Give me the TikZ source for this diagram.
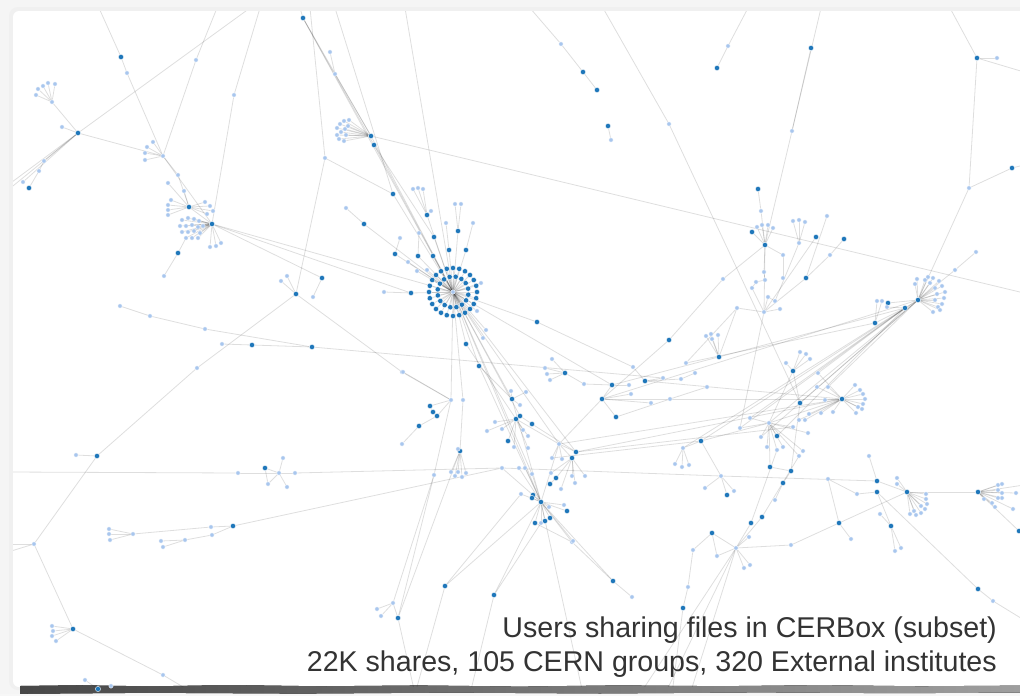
\documentclass[tikz,border=0pt]{standalone}
\usepackage{fontspec}
\setmainfont{Liberation Sans}
\usetikzlibrary{backgrounds}
\pgfdeclarelayer{bgzero}
\pgfsetlayers{bgzero,background,main}
\definecolor{dkblue}{RGB}{31,119,186}
\definecolor{ltblue}{RGB}{168,198,238}
\tikzset{
  dnode/.style={circle,fill=dkblue,draw=white,line width=0.35pt,inner sep=0pt,minimum size=5.3pt},
  lnode/.style={circle,fill=ltblue,draw=white,line width=0.3pt,inner sep=0pt,minimum size=4.4pt},
  lnk/.style={draw=black,draw opacity=0.13,line width=0.8pt},
  captxt/.style={font=\fontsize{28.6}{34}\selectfont,text=black!80,anchor=base east,inner sep=0pt}
}
\begin{document}
\begin{tikzpicture}[x=1pt,y=-1pt]
\useasboundingbox (0,0) rectangle (1020,696);
% frame
\begin{pgfonlayer}{bgzero}
\fill[black!4] (0,0) rectangle (1020,696);
\fill[black!6,rounded corners=9pt] (9,7) rectangle (1040,690);
\fill[white,rounded corners=6pt] (13,11) rectangle (1040,687);
\fill[left color=black!72,right color=black!38]
  (20,686) -- (80,685.2) -- (150,686.4) -- (230,685) -- (320,686.3) -- (420,685.4)
  -- (520,686.6) -- (620,685.3) -- (720,686.2) -- (820,685.1) -- (920,686.3) -- (1020,685.6)
  -- (1020,692.5) -- (900,693.2) -- (760,692.4) -- (600,693.5) -- (450,692.6) -- (300,693.6)
  -- (150,692.8) -- (20,693.8) -- cycle;
\fill[black!3] (0,694.2) rectangle (1020,696);
\end{pgfonlayer}
% border coordinates
\foreach \x/\y in {250/8, 99/8, 217/8, 260/8, 300/8, 310/8, 335/8, 405/8, 530/8, 603/8, 748/8, 821/8, 950/8, 8/190, 8/185, 8/472, 8/544, 8/552, 1024/293, 1024/72, 1024/165, 1024/485, 1024/620, 1024/535, 195/694, 640/694, 665/694, 690/694, 583/694, 415/694, 470/694, 672/694, 119/694}
  \coordinate (v\x-\y) at (\x,\y);
% dark nodes
\foreach \x/\y in {121/57, 78/133, 29/188, 189/207, 212/224, 178/253, 303/18, 371/136, 374/145, 393/194, 364/224, 427/215, 458/231, 449/250, 466/250, 434/237, 395/254, 418/256, 433/256, 411/293, 322/278, 296/294, 312/347, 252/345, 537/322, 466/344, 479/366, 430/406, 433/412, 437/416, 419/426, 460/451, 512/399, 516/419, 520/416, 532/424, 508/441, 565/373, 612/385, 602/399, 616/417, 645/381, 669/340, 576/452, 572/458, 556/478, 550/484, 533/495, 532/498, 541/502, 567/511, 535/523, 545/521, 550/518, 583/72, 597/90, 608/126, 717/68, 811/48, 977/58, 1012/168, 758/189, 752/232, 765/245, 816/237, 806/278, 844/239, 719/357, 918/300, 905/308, 888/303, 875/323, 793/371, 800/403, 842/399, 777/436, 701/441, 727/495, 770/467, 791/471, 783/483, 877/481, 877/492, 762/517, 751/523, 839/523, 712/533, 683/608, 613/581, 445/586, 494/595, 398/618, 891/526, 907/492, 978/492, 1019/531, 978/589, 97/456, 265/468, 233/526, 73/629, 98/689}
  \node[dnode] (v\x-\y) at (\x,\y) {};
% light nodes
\foreach \x/\y in {127/73, 52/102, 36/95, 38/89, 43/86, 48/83, 55/84, 62/127, 44/161, 39/171, 23/182, 163/156, 147/147, 153/142, 145/153, 145/160, 196/60, 234/95, 178/175, 168/183, 184/191, 171/200, 168/205, 168/210, 168/215, 205/202, 210/206, 213/211, 207/214, 182/220, 188/218, 194/219, 199/221, 180/226, 186/226, 192/225, 198/227, 203/226, 182/232, 188/232, 194/231, 200/233, 186/238, 192/238, 198/238, 164/276, 210/247, 216/246, 221/243, 330/52, 335/74, 337/128, 340/124, 344/121, 349/120, 337/135, 341/132, 345/129, 348/126, 339/139, 344/141, 346/135, 325/158, 346/208, 413/189, 418/188, 423/189, 431/211, 455/204, 461/204, 446/223, 473/223, 287/276, 281/281, 313/297, 120/306, 150/316, 205/329, 222/344, 197/368, 402/372, 384/292, 400/238, 419/233, 408/262, 417/271, 427/270, 486/330, 483/338, 477/311, 481/283, 403/372, 451/400, 463/400, 402/444, 458/449, 451/472, 455/476, 458/472, 462/477, 466/473, 434/475, 561/44, 611/140, 669/124, 728/46, 792/131, 997/58, 969/188, 761/211, 757/227, 762/225, 768/225, 773/228, 783/255, 783/278, 764/272, 765/280, 756/282, 752/288, 768/297, 775/301, 780/309, 764/312, 723/279, 737/308, 793/221, 799/220, 805/222, 799/243, 827/216, 830/255, 706/336, 711/334, 718/335, 712/339, 917/279, 915/284, 928/277, 933/278, 939/281, 942/286, 945/292, 944/298, 942/304, 938/307, 935/300, 937/294, 935/288, 930/283, 925/280, 940/310, 933/312, 955/270, 976/252, 877/301, 882/301, 887/307, 552/359, 545/368, 547/374, 550/380, 584/384, 629/385, 633/367, 663/378, 681/379, 686/363, 695/373, 707/387, 651/403, 670/399, 631/394, 786/363, 800/352, 806/354, 810/359, 855/385, 860/390, 863/394, 865/399, 863/404, 858/407, 856/413, 862/409, 818/373, 828/387, 817/387, 825/400, 833/412, 821/413, 809/414, 805/420, 799/420, 793/427, 808/433, 769/423, 761/437, 767/447, 777/450, 783/447, 803/451, 799/456, 750/418, 740/428, 683/448, 675/464, 682/467, 689/465, 721/476, 705/488, 734/491, 828/479, 857/494, 869/456, 775/500, 851/539, 791/545, 749/537, 736/548, 693/550, 717/556, 744/568, 750/565, 688/587, 572/542, 632/597, 526/392, 511/391, 520/405, 495/422, 487/431, 502/429, 523/430, 528/436, 514/447, 528/448, 502/468, 519/468, 525/468, 532/474, 559/444, 552/458, 562/459, 561/489, 551/473, 572/476, 575/483, 585/476, 521/494, 549/507, 564/505, 541/523, 573/541, 880/514, 895/551, 901/548, 897/478, 897/484, 926/494, 926/499, 927/504, 925/509, 921/506, 921/513, 916/515, 910/514, 914/511, 998/485, 1002/484, 998/490, 1002/493, 1016/493, 1002/498, 998/498, 995/507, 1013/509, 984/499, 992/503, 993/601, 76/455, 238/473, 279/473, 283/458, 287/487, 268/484, 295/473, 34/544, 52/626, 53/631, 52/636, 56/641, 163/675, 85/680, 111/686, 109/529, 109/534, 110/540, 133/534, 211/527, 212/535, 185/540, 161/541, 163/547, 393/603, 377/609, 381/616, 453/292}
  \node[lnode] (v\x-\y) at (\x,\y) {};
% hub rings
\foreach \i in {1,...,24}
  \node[dnode] (ho\i) at ({453+24*cos(15*\i)},{292+24*sin(15*\i)}) {};
\foreach \i in {1,...,16}
  \node[dnode] (hi\i) at ({453+15.5*cos(22.5*\i+10)},{292+15.5*sin(22.5*\i+10)}) {};
% caption
\node[captxt] (t1) at (997,637) {Users sharing files in CERBox (subset)};
\node[captxt] (t2) at (997,671) {22K shares, 105 CERN groups, 320 External institutes};
% edges
\begin{pgfonlayer}{background}
\begin{scope}
\clip (13,11) rectangle (1020,686);
\foreach \i in {1,...,24} \draw[lnk] (v453-292) -- (ho\i);
\foreach \i in {1,...,16} \draw[lnk] (v453-292) -- (hi\i);
\foreach \b in {182-220, 188-218, 194-219, 199-221, 180-226, 186-226, 192-225, 198-227, 203-226, 182-232, 188-232, 194-231, 200-233, 186-238, 192-238, 198-238}
  \draw[lnk] (v212-224) -- (v\b);
\foreach \b in {337-128, 340-124, 344-121, 349-120, 337-135, 341-132, 345-129, 348-126, 339-139, 344-141, 346-135}
  \draw[lnk] (v371-136) -- (v\b);
\foreach \b in {917-279, 915-284, 928-277, 933-278, 939-281, 942-286, 945-292, 944-298, 942-304, 938-307, 935-300, 937-294, 935-288, 930-283, 925-280, 940-310, 933-312}
  \draw[lnk] (v918-300) -- (v\b);
\foreach \b in {855-385, 860-390, 863-394, 865-399, 863-404, 858-407, 856-413, 862-409}
  \draw[lnk] (v842-399) -- (v\b);
\foreach \b in {926-494, 926-499, 927-504, 925-509, 921-506, 921-513, 916-515, 910-514, 914-511}
  \draw[lnk] (v907-492) -- (v\b);
\foreach \b in {998-485, 1002-484, 998-490, 1002-493, 1016-493, 1002-498, 998-498, 995-507, 1013-509, 984-499, 992-503}
  \draw[lnk] (v978-492) -- (v\b);
\foreach \a/\b in {99-8/121-57, 121-57/127-73, 127-73/163-156,
 52-102/36-95, 52-102/38-89, 52-102/43-86, 52-102/48-83, 52-102/55-84, 52-102/78-133, 62-127/78-133, 78-133/250-8, 78-133/163-156, 78-133/8-190, 78-133/8-185, 78-133/23-182, 78-133/44-161, 44-161/39-171, 39-171/29-188,
 163-156/147-147, 163-156/153-142, 163-156/145-153, 163-156/145-160, 217-8/196-60, 196-60/163-156, 260-8/234-95, 234-95/212-224, 163-156/178-175, 178-175/189-207, 168-183/189-207, 184-191/189-207, 163-156/212-224,
 189-207/171-200, 189-207/168-205, 189-207/168-210, 189-207/168-215, 189-207/205-202, 189-207/210-206, 189-207/213-211, 189-207/207-214, 189-207/212-224,
 178-253/164-276, 178-253/186-238, 212-224/210-247, 212-224/216-246, 212-224/221-243,
 212-224/453-292, 212-224/411-293, 212-224/322-278,
 303-18/300-8, 303-18/371-136, 303-18/374-145, 303-18/453-292, 330-52/335-74, 335-74/371-136,
 310-8/325-158, 325-158/296-294, 325-158/393-194, 335-8/393-194, 393-194/453-292, 405-8/453-292, 371-136/1024-293, 371-136/453-292, 374-145/434-237, 374-145/453-292, 346-208/364-224, 364-224/453-292,
 427-215/413-189, 427-215/418-188, 427-215/423-189, 427-215/431-211, 427-215/453-292, 455-204/458-231, 461-204/458-231, 446-223/449-250, 473-223/466-250, 458-231/453-292, 449-250/453-292, 466-250/453-292, 400-238/395-254, 419-233/418-256, 434-237/453-292, 395-254/453-292, 418-256/453-292, 433-256/453-292, 408-262/453-292, 417-271/453-292, 427-270/453-292, 384-292/411-293, 411-293/453-292,
 296-294/287-276, 296-294/281-281, 322-278/313-297, 296-294/197-368, 197-368/97-456, 296-294/402-372, 402-372/451-400, 120-306/150-316, 150-316/205-329, 205-329/312-347, 222-344/252-345, 252-345/312-347, 312-347/663-378,
 453-292/479-366, 453-292/512-399, 453-292/520-416, 453-292/559-444, 453-292/532-474, 453-292/541-502, 453-292/576-452, 453-292/466-344, 453-292/537-322, 453-292/486-330, 453-292/483-338, 453-292/477-311, 453-292/481-283, 466-344/516-419, 453-292/612-385, 453-292/451-400, 453-292/463-400, 537-322/633-367,
 403-372/451-400, 451-400/430-406, 430-406/433-412, 433-412/437-416, 437-416/419-426, 419-426/402-444, 451-400/437-416, 463-400/460-451, 460-451/451-472, 460-451/455-476, 460-451/458-472, 460-451/462-477, 460-451/466-473, 460-451/458-449, 451-400/434-475, 434-475/398-618, 460-451/398-618, 434-475/393-603, 393-603/377-609, 393-603/381-616, 393-603/398-618, 398-618/415-694,
 8-472/238-473, 238-473/279-473, 279-473/265-468, 279-473/283-458, 279-473/287-487, 279-473/268-484, 279-473/295-473, 265-468/268-484, 295-473/502-468, 502-468/721-476, 721-476/877-481,
 109-529/133-534, 109-534/133-534, 110-540/133-534, 133-534/211-527, 211-527/233-526, 161-541/185-540, 163-547/185-540, 185-540/212-535, 212-535/233-526, 233-526/502-468,
 97-456/76-455, 97-456/34-544, 34-544/8-544, 34-544/8-552, 34-544/73-629, 73-629/52-626, 73-629/53-631, 73-629/52-636, 73-629/56-641, 73-629/163-675, 163-675/195-694, 85-680/98-689, 98-689/111-686, 111-686/119-694,
 479-366/512-399, 512-399/526-392, 512-399/511-391, 512-399/520-405, 516-419/520-416, 520-416/532-424, 516-419/495-422, 516-419/487-431, 516-419/502-429, 516-419/523-430, 516-419/528-436, 516-419/514-447, 516-419/528-448, 508-441/516-419, 516-419/559-444, 512-399/541-502, 532-424/576-452, 559-444/552-458, 559-444/562-459, 559-444/576-452, 559-444/572-458, 572-458/556-478, 556-478/550-484, 572-458/561-489, 572-458/551-473, 572-458/572-476, 572-458/575-483, 572-458/585-476, 541-502/533-495, 541-502/532-498, 541-502/521-494, 541-502/549-507, 541-502/564-505, 541-502/567-511, 541-502/535-523, 541-502/545-521, 541-502/550-518, 541-502/541-523, 541-502/573-541, 541-502/572-542, 541-502/445-586, 541-502/494-595, 541-502/613-581, 541-502/583-694, 541-502/559-444, 502-468/541-502, 519-468/541-502, 525-468/541-502, 532-474/541-502, 479-366/541-502,
 565-373/552-359, 565-373/545-368, 565-373/547-374, 565-373/550-380, 565-373/584-384, 584-384/612-385, 612-385/629-385, 612-385/602-399, 602-399/616-417, 602-399/651-403, 645-381/633-367, 645-381/663-378, 645-381/681-379, 681-379/695-373, 669-340/602-399, 669-340/723-279, 602-399/559-444, 670-399/707-387, 631-394/602-399, 616-417/670-399,
 576-452/842-399, 576-452/793-427, 552-458/701-441, 612-385/905-308, 602-399/918-300, 602-399/842-399, 559-444/842-399, 645-381/842-399,
 918-300/701-441, 918-300/769-423, 918-300/800-403, 905-308/740-428, 905-308/750-418, 905-308/683-448, 918-300/761-437, 905-308/777-436, 905-308/818-373, 918-300/828-387, 905-308/875-323, 875-323/877-301, 875-323/882-301, 888-303/918-300, 887-307/905-308, 905-308/918-300, 918-300/955-270, 955-270/976-252, 918-300/969-188, 969-188/977-58, 969-188/1012-168, 1012-168/1024-165, 977-58/997-58, 977-58/950-8, 977-58/1024-72, 686-363/875-323,
 842-399/818-373, 842-399/828-387, 842-399/817-387, 842-399/825-400, 842-399/833-412, 842-399/821-413, 842-399/809-414, 842-399/805-420, 842-399/799-420, 793-371/786-363, 793-371/800-352, 793-371/806-354, 793-371/810-359, 793-371/800-403, 793-371/769-423,
 769-423/761-437, 769-423/767-447, 769-423/777-436, 769-423/777-450, 769-423/783-447, 769-423/750-418, 769-423/740-428, 769-423/701-441, 769-423/803-451, 769-423/799-456, 769-423/808-433, 769-423/793-427, 769-423/842-399,
 701-441/683-448, 683-448/675-464, 683-448/682-467, 683-448/689-465, 721-476/705-488, 721-476/727-495, 721-476/734-491, 721-476/701-441, 770-467/791-471, 783-483/791-471, 791-471/800-403, 770-467/769-423, 762-517/799-456, 751-523/777-450, 751-523/736-548, 762-517/736-548, 775-500/783-483,
 736-548/744-568, 736-548/750-565, 736-548/717-556, 712-533/736-548, 749-537/736-548, 791-545/736-548, 736-548/665-694, 736-548/690-694, 736-548/640-694, 791-545/839-523, 839-523/851-539, 839-523/907-492, 839-523/828-479, 828-479/857-494, 857-494/877-492, 869-456/877-481, 877-481/907-492, 877-492/891-526, 891-526/880-514, 891-526/895-551, 891-526/901-548, 877-492/978-589, 978-589/993-601, 993-601/1024-620, 897-478/907-492, 897-484/907-492, 907-492/978-492, 978-492/1024-485, 978-492/1019-531, 1019-531/1024-535,
 712-533/693-550, 693-550/688-587, 688-587/683-608, 683-608/672-694, 717-556/712-533, 572-542/613-581, 613-581/632-597, 445-586/521-494, 445-586/415-694, 494-595/541-523, 494-595/470-694, 572-542/535-523,
 758-189/761-211, 761-211/765-245, 752-232/765-245, 765-245/757-227, 765-245/762-225, 765-245/768-225, 765-245/773-228, 765-245/764-312, 765-245/783-255, 783-255/783-278, 765-245/764-272, 764-272/765-280, 765-280/756-282, 756-282/752-288, 764-312/752-288, 764-312/768-297, 768-297/775-301, 764-312/780-309, 765-245/723-279, 764-312/737-308, 737-308/686-363, 737-308/719-357, 799-243/793-221, 799-243/799-220, 799-243/805-222, 799-243/775-301, 827-216/806-278, 806-278/764-312, 844-239/830-255, 830-255/806-278, 816-237/764-312, 792-131/811-48, 792-131/821-8, 792-131/765-245, 748-8/728-46, 728-46/717-68, 603-8/669-124, 669-124/800-403, 530-8/561-44, 561-44/583-72, 583-72/597-90, 608-126/611-140, 764-312/740-428, 719-357/706-336, 719-357/711-334, 719-357/718-335, 719-357/712-339}
  \draw[lnk] (v\a) -- (v\b);
\end{scope}
\end{pgfonlayer}
\end{tikzpicture}
\end{document}
